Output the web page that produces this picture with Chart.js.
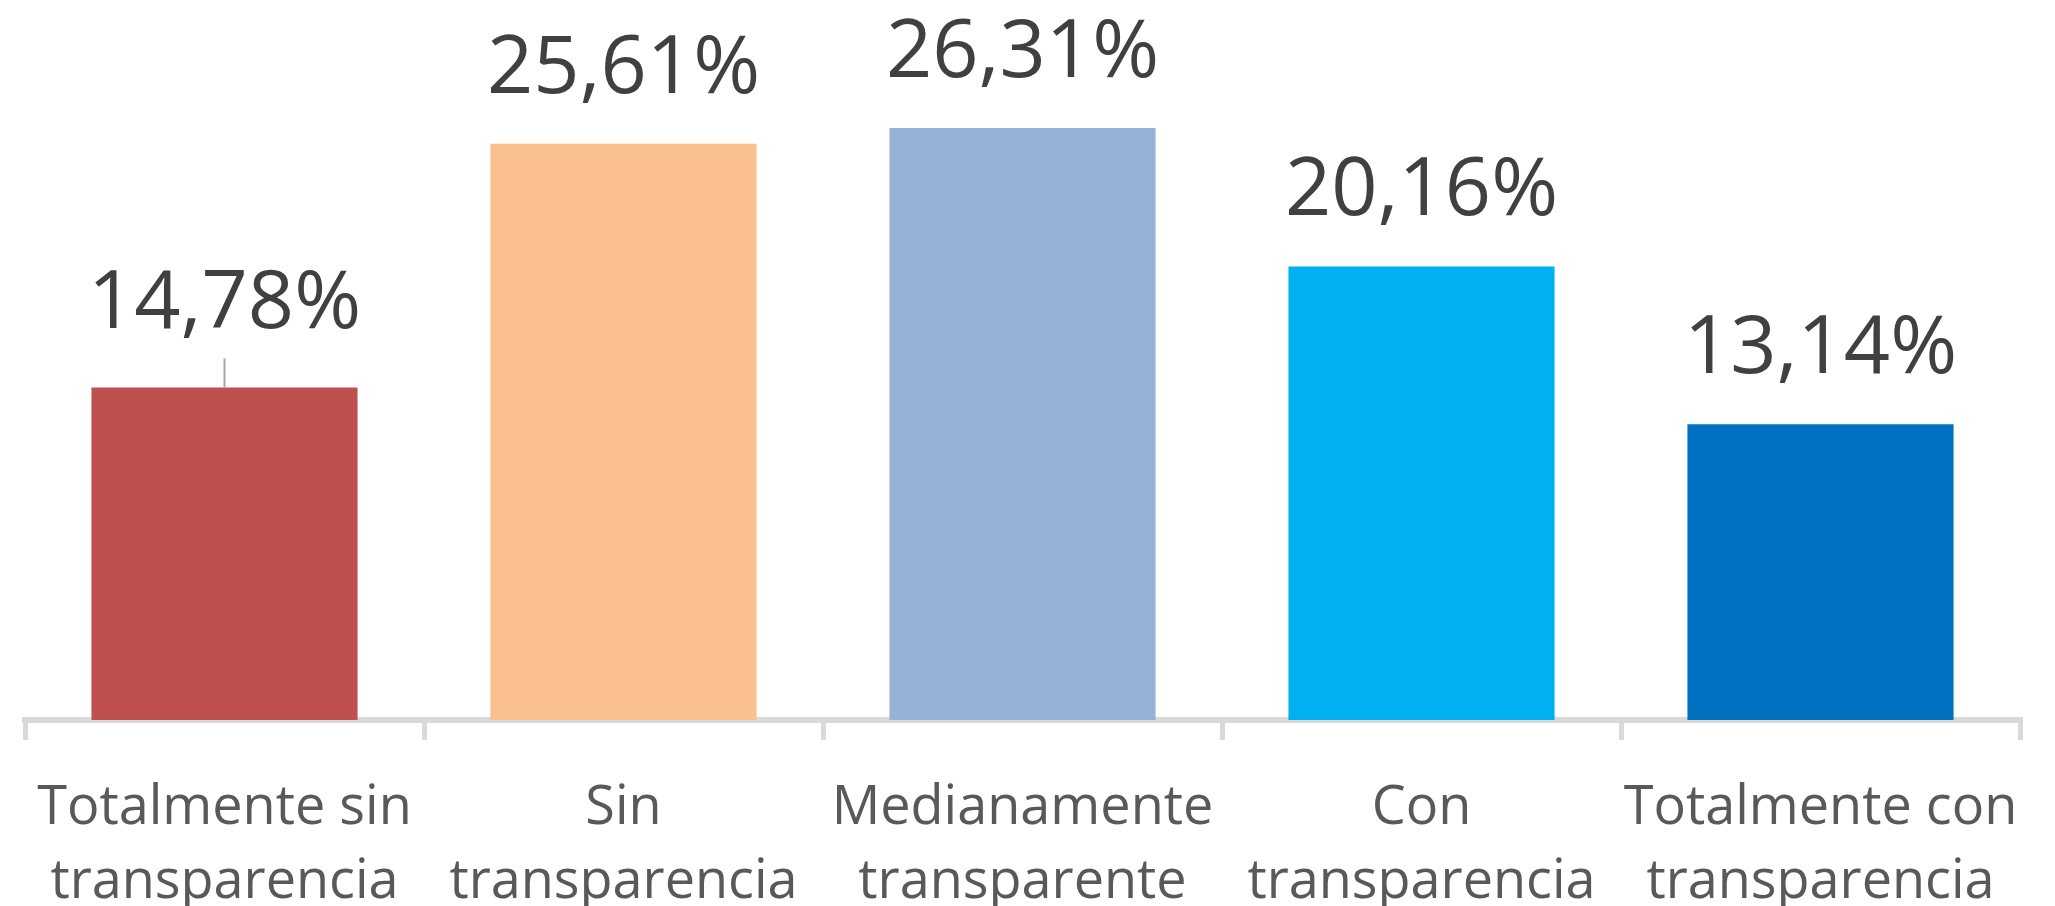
<!DOCTYPE html>
<html>
<head>
<meta charset="utf-8">
<script src="https://cdn.jsdelivr.net/npm/chart.js@4.4.1/dist/chart.umd.min.js"></script>
<style>
	body { margin: 0; background: #fff; }
	#wrap { width: 2055px; height: 906px; position: relative; }
</style>
</head>
<body>
<div id="wrap"><canvas id="mycanvas"></canvas></div>
<script>
var categories = [
	['Totalmente sin', 'transparencia'],
	['Sin', 'transparencia'],
	['Medianamente', 'transparente'],
	['Con', 'transparencia'],
	['Totalmente con', 'transparencia']
];
var percentages = [14.78, 25.61, 26.31, 20.16, 13.14];
var colors = ['#c0504d', '#fac090', '#95b3d7', '#00b0f0', '#0070c0'];

// value labels above the bars, comma as decimal separator
var valueLabels = {
	id: 'valueLabels',
	afterDatasetsDraw: function(chart) {
		var ctx = chart.ctx;
		var meta = chart.getDatasetMeta(0);
		ctx.save();
		ctx.font = '81px "Open Sans"';
		ctx.fillStyle = '#404040';
		ctx.textAlign = 'center';
		ctx.textBaseline = 'alphabetic';
		for (var i = 0; i < meta.data.length; i++) {
			var bar = meta.data[i];
			var text = percentages[i].toFixed(2).replace('.', ',') + '%';
			var gap = 51;
			if (i == 0) {
				// first label was pulled up in the original, with a leader line
				gap = 59;
				ctx.strokeStyle = '#a6a6a6';
				ctx.lineWidth = 2;
				ctx.beginPath();
				ctx.moveTo(bar.x, bar.y - 29);
				ctx.lineTo(bar.x, bar.y);
				ctx.stroke();
			}
			ctx.fillText(text, bar.x, bar.y - gap);
		}
		ctx.restore();
	}
};

var chartdata = {
	labels: categories,
	datasets: [
		{
			label: 'transparencia',
			backgroundColor: colors,
			borderWidth: 0,
			barPercentage: 0.667,
			categoryPercentage: 1,
			data: percentages
		}
	]
};

var ctx = document.getElementById('mycanvas');

var barGraph = new Chart(ctx, {
	type: 'bar',
	data: chartdata,
	plugins: [valueLabels],
	options: {
		responsive: true,
		maintainAspectRatio: false,
		animation: false,
		layout: {
			padding: { left: 25, right: 35, top: 0, bottom: 0 }
		},
		plugins: {
			legend: { display: false },
			tooltip: { enabled: false }
		},
		scales: {
			x: {
				afterFit: function(scale) { scale.height = 186; },
				grid: {
					offset: true,
					drawOnChartArea: false,
					drawTicks: true,
					tickLength: 20,
					color: '#d9d9d9',
					lineWidth: 5
				},
				border: { display: true, color: '#d9d9d9', width: 6 },
				ticks: {
					color: '#595959',
					padding: 31,
					maxRotation: 0,
					autoSkip: false,
					font: { family: 'Open Sans', size: 54, lineHeight: 1.38 }
				}
			},
			y: {
				display: false,
				min: 0,
				max: 32
			}
		}
	}
});
</script>
</body>
</html>
